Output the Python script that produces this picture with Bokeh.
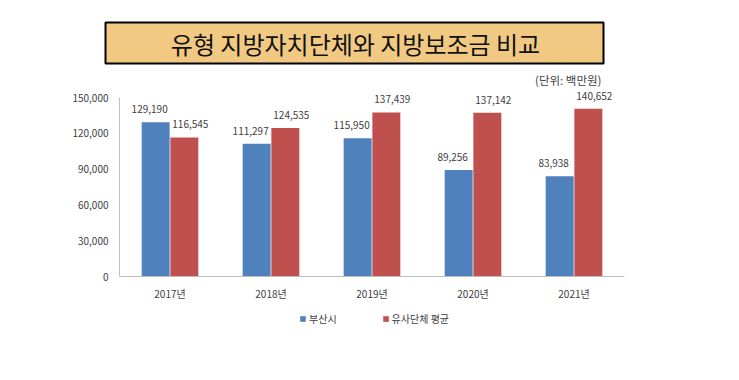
from bokeh.plotting import figure
from bokeh.models import (ColumnDataSource, Range1d, FixedTicker, NumeralTickFormatter,
                          LabelSet, Label, Legend, LegendItem)
from bokeh.core.properties import value
from bokeh.transform import dodge
from bokeh.embed import file_html
from bokeh.resources import INLINE

years = ["2017년", "2018년", "2019년", "2020년", "2021년"]
busan = [129190, 111297, 115950, 89256, 83938]
similar = [116545, 124535, 137439, 137142, 140652]
y_ticks = [0, 30000, 60000, 90000, 120000, 150000]
series_names = ["부산시", "유사단체 평균"]
title_text = "유형 지방자치단체와 지방보조금 비교"
unit_text = "(단위: 백만원)"

BLUE = "#4F81BD"
RED = "#C0504D"
FONT = "Noto Sans CJK KR"
TXT = "#404040"
W, H = 730, 370

# layout geometry (pixels): category pitch, first category centre, value axis
PITCH = 101.0
X0 = 169.5
Y_ZERO = 276.0
Y_TOP = 97.0
YMAX = 150000
ppu = (Y_ZERO - Y_TOP) / YMAX

idx = list(range(len(years)))
src = ColumnDataSource(dict(
    idx=idx, busan=busan, similar=similar,
    busan_lbl=[f"{v:,}" for v in busan],
    similar_lbl=[f"{v:,}" for v in similar],
))

p = figure(width=W, height=H,
           x_range=Range1d(-X0 / PITCH, (W - X0) / PITCH),
           y_range=Range1d(-(H - Y_ZERO) / ppu, Y_ZERO / ppu),
           min_border=0, title=None, output_backend="svg", toolbar_location=None)
p.extra_x_ranges = {"px": Range1d(0, W)}
p.extra_y_ranges = {"px": Range1d(H, 0)}
p.outline_line_color = None
p.xgrid.visible = False
p.ygrid.visible = False
p.background_fill_color = "white"
p.border_fill_color = "white"

r1 = p.vbar(x=dodge("idx", -0.142), top="busan", width=0.277,
            source=src, fill_color=BLUE, line_color=None)
r2 = p.vbar(x=dodge("idx", 0.142), top="similar", width=0.277,
            source=src, fill_color=RED, line_color=None)

for col, off, xo in (("busan", -0.142, -6), ("similar", 0.142, 6)):
    p.add_layout(LabelSet(x=dodge("idx", off), y=col, text=col + "_lbl",
                          source=src, x_offset=xo, y_offset=13, text_align="center",
                          text_baseline="middle", text_font=value(FONT),
                          text_font_size=value("10px"), text_color=value(TXT)))

# axes (library axes, pinned to the value/category origin)
xa = p.xaxis[0]
ya = p.yaxis[0]
ya.ticker = FixedTicker(ticks=y_ticks)
ya.formatter = NumeralTickFormatter(format="0,0")
ya.bounds = (0, YMAX)
ya.fixed_location = -0.5
xa.ticker = FixedTicker(ticks=idx)
xa.major_label_overrides = {i: y for i, y in zip(idx, years)}
xa.bounds = (-0.5, len(years) - 0.5)
xa.fixed_location = 0
for ax in (xa, ya):
    ax.axis_line_color = "#BFBFBF"
    ax.major_tick_line_color = None
    ax.minor_tick_line_color = None
    ax.major_tick_out = 0
    ax.major_tick_in = 0
    ax.minor_tick_out = 0
    ax.minor_tick_in = 0
    ax.major_label_text_font = FONT
    ax.major_label_text_font_size = "10px"
    ax.major_label_text_color = TXT
ya.major_label_standoff = 11
xa.major_label_standoff = 9

# title box and unit note (pixel-space range)
p.quad(left=[105], right=[603], top=[22], bottom=[63], fill_color="#F2C982",
       line_color="black", line_width=2, x_range_name="px", y_range_name="px")
p.add_layout(Label(x=355, y=43, text=title_text, text_align="center", text_baseline="middle",
                   text_font=FONT, text_font_size="24px", text_color="#111111",
                   x_range_name="px", y_range_name="px"))
p.add_layout(Label(x=601, y=79, text=unit_text, text_align="right", text_baseline="middle",
                   text_font=FONT, text_font_size="11.5px", text_color=TXT,
                   x_range_name="px", y_range_name="px"))

# legend
legend = Legend(items=[LegendItem(label=series_names[0], renderers=[r1]),
                       LegendItem(label=series_names[1], renderers=[r2])],
                orientation="horizontal", location=(299, H - 326),
                glyph_width=7, glyph_height=7, label_standoff=3, spacing=45,
                label_height=7, padding=0, margin=0, border_line_color=None,
                background_fill_alpha=0, label_text_font=FONT,
                label_text_font_size="10px", label_text_color=TXT)
p.add_layout(legend, "center")

open("out.html", "w").write(file_html(p, INLINE))
